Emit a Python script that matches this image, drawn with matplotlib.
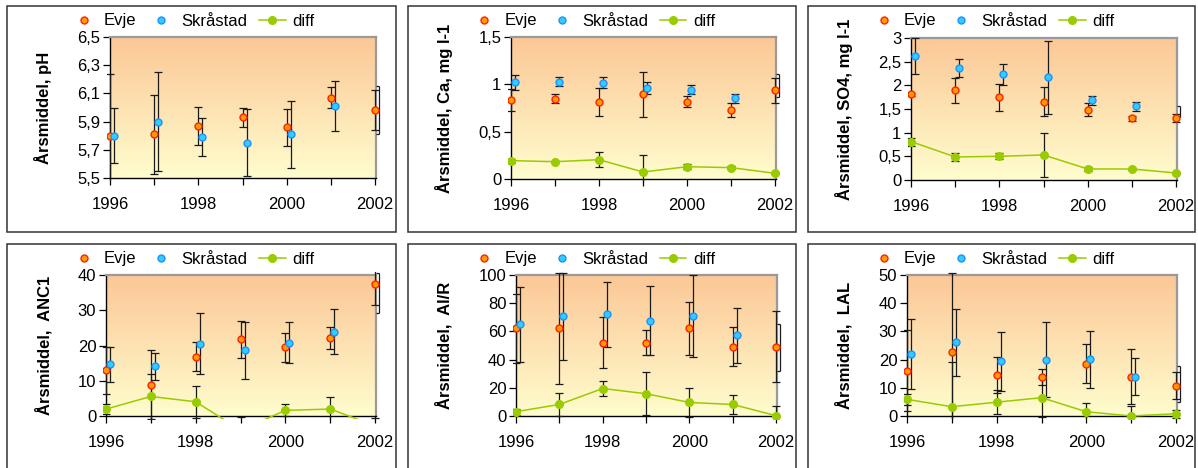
import numpy as np
import matplotlib
matplotlib.use("Agg")
import matplotlib.pyplot as plt
from matplotlib.lines import Line2D
from matplotlib.patches import Rectangle
from matplotlib.ticker import FuncFormatter, FixedLocator
from matplotlib.transforms import Bbox, TransformedBbox

plt.rcParams['font.family'] = ['Liberation Sans', 'DejaVu Sans']

years = [1996, 1997, 1998, 1999, 2000, 2001, 2002]

# pH
ph_evje = [5.80, 5.81, 5.87, 5.93, 5.86, 6.07, 5.98]
ph_evje_err = [0.44, 0.28, 0.135, 0.07, 0.13, 0.077, 0.142]
ph_skr = [5.80, 5.90, 5.79, 5.75, 5.81, 6.01, 5.985]
ph_skr_err = [0.195, 0.35, 0.137, 0.236, 0.238, 0.18, 0.17]
ph_diff = [0.0, 0.09, -0.08, -0.18, -0.05, -0.07, 0.0]
ph_diff_err = [0.1, 0.1, 0.1, 0.1, 0.1, 0.1, 0.1]
ph_ticks = [5.5, 5.7, 5.9, 6.1, 6.3, 6.5]

# Ca
ca_evje = [0.838, 0.849, 0.813, 0.894, 0.817, 0.729, 0.940]
ca_evje_err = [0.115, 0.045, 0.143, 0.24, 0.055, 0.072, 0.132]
ca_skr = [1.021, 1.028, 1.018, 0.961, 0.944, 0.852, 0.986]
ca_skr_err = [0.08, 0.05, 0.06, 0.067, 0.046, 0.046, 0.12]
ca_diff = [0.194, 0.183, 0.204, 0.074, 0.130, 0.120, 0.060]
ca_diff_err = [0.02, 0.005, 0.077, 0.176, 0.026, 0.015, 0.005]
ca_ticks = [0, 0.5, 1, 1.5]

# SO4
so4_evje = [1.807, 1.898, 1.743, 1.658, 1.482, 1.306, 1.306]
so4_evje_err = [0.03, 0.265, 0.28, 0.3, 0.14, 0.05, 0.08]
so4_skr = [2.625, 2.364, 2.230, 2.167, 1.680, 1.553, 1.44]
so4_skr_err = [0.38, 0.187, 0.222, 0.77, 0.105, 0.095, 0.113]
so4_diff = [0.812, 0.487, 0.501, 0.529, 0.233, 0.233, 0.148]
so4_diff_err = [0.085, 0.077, 0.06, 0.46, 0.04, 0.02, 0.025]
so4_ticks = [0, 0.5, 1, 1.5, 2, 2.5, 3]

# ANC1
anc_evje = [12.96, 8.73, 16.81, 21.78, 19.44, 22.07, 37.37]
anc_evje_err = [6.7, 9.86, 4.1, 5.2, 4.04, 3.2, 5.9]
anc_skr = [14.65, 14.08, 20.56, 18.6, 20.85, 23.85, 34.8]
anc_skr_err = [4.9, 3.85, 8.7, 8.2, 5.9, 6.4, 5.7]
anc_diff = [1.97, 5.54, 4.04, -4.0, 1.6, 1.97, -2.8]
anc_diff_err = [1.4, 6.4, 4.5, 3.8, 1.7, 3.4, 2.3]
anc_ticks = [0, 10, 20, 30, 40]

# Al/R
alr_evje = [62.1, 62.1, 52.0, 52.0, 62.1, 49.2, 49.2]
alr_evje_err = [24.3, 39.5, 18.2, 8.8, 19.0, 13.9, 25.0]
alr_skr = [65.2, 70.6, 72.0, 67.5, 71.1, 57.4, 48.6]
alr_skr_err = [26.6, 31.0, 23.3, 24.4, 29.0, 19.5, 17.0]
alr_diff = [3.06, 8.2, 19.5, 15.8, 9.6, 8.2, 0.2]
alr_diff_err = [2.2, 8.4, 5.0, 15.3, 10.0, 6.6, 7.0]
alr_ticks = [0, 20, 40, 60, 80, 100]

# LAL
lal_evje = [16.1, 22.8, 14.6, 13.8, 18.5, 13.9, 10.8]
lal_evje_err = [14.5, 27.9, 6.3, 2.8, 6.9, 9.8, 4.7]
lal_skr = [22.0, 26.1, 19.4, 20.0, 20.1, 13.9, 11.4]
lal_skr_err = [12.3, 12.0, 10.5, 13.3, 10.1, 6.6, 6.3]
lal_diff = [5.9, 3.3, 4.9, 6.5, 1.5, 0.0, 0.8]
lal_diff_err = [2.0, 16.0, 4.2, 7.0, 3.2, 3.5, 1.4]
lal_ticks = [0, 10, 20, 30, 40, 50]

ylabels = ["Årsmiddel, pH", "Årsmiddel, Ca, mg l-1", "Årsmiddel, SO4, mg l-1",
           "Årsmiddel,  ANC1", "Årsmiddel,  Al/R", "Årsmiddel,  LAL"]

W, H = 1198, 468
fig = plt.figure(figsize=(W / 100, H / 100), dpi=100)

EVJE_FC, EVJE_EC = '#FF9900', '#FF2200'
SKR_FC, SKR_EC = '#33CCFF', '#1E90FF'
DIFF_C = '#99CC00'
BAR_C = '#1a1a1a'

# frame boxes (l, t, r, b) and plot areas in pixels
frames = [(7, 6, 396, 232), (408, 6, 796, 232), (808, 6, 1195, 232),
          (7, 244, 396, 480), (408, 244, 796, 480), (808, 244, 1195, 480)]
areas = [(110, 37, 376, 178), (511, 37, 776, 179), (911, 38, 1177, 180),
         (106, 275, 376, 416), (516, 275, 777, 416), (907, 275, 1177, 416)]
label_x = [52, 453, 853, 53, 453, 853]

panels = [
    (ph_evje, ph_evje_err, ph_skr, ph_skr_err, ph_diff, ph_diff_err, ph_ticks),
    (ca_evje, ca_evje_err, ca_skr, ca_skr_err, ca_diff, ca_diff_err, ca_ticks),
    (so4_evje, so4_evje_err, so4_skr, so4_skr_err, so4_diff, so4_diff_err, so4_ticks),
    (anc_evje, anc_evje_err, anc_skr, anc_skr_err, anc_diff, anc_diff_err, anc_ticks),
    (alr_evje, alr_evje_err, alr_skr, alr_skr_err, alr_diff, alr_diff_err, alr_ticks),
    (lal_evje, lal_evje_err, lal_skr, lal_skr_err, lal_diff, lal_diff_err, lal_ticks),
]

gradient = np.linspace(0, 1, 256).reshape(-1, 1)
top_c = np.array([252, 199, 150]) / 255
bot_c = np.array([255, 253, 206]) / 255
grad_img = top_c[None, None, :] * (1 - gradient[:, :, None]) + bot_c[None, None, :] * gradient[:, :, None]

comma = FuncFormatter(lambda v, p: ('%g' % v).replace('.', ','))
skr_shift = 0.09


def loose_clip(ax, art, w, h, m=3):
    box = TransformedBbox(Bbox.from_extents(-m / w, -m / h, 1 + m / w, 1 + m / h), ax.transAxes)
    art.set_clip_path(None)
    art.set_clip_box(box)


def bars(ax, x, y, err, w, h):
    eb = ax.errorbar(x, y, yerr=err, fmt='none', ecolor=BAR_C, elinewidth=0.9,
                     capsize=3, capthick=0.9, zorder=3)
    for art in list(eb.lines[1]) + list(eb.lines[2]):
        loose_clip(ax, art, w, h)


for i, (frame, area, pdata) in enumerate(zip(frames, areas, panels)):
    l, t, r, b = frame
    fig.patches.append(Rectangle((l / W, 1 - b / H), (r - l) / W, (b - t) / H,
                                 transform=fig.transFigure, fill=False,
                                 edgecolor='#333333', lw=1.1))
    al, at, ar, ab = area
    w, h = ar - al, ab - at
    ax = fig.add_axes([al / W, 1 - ab / H, w / W, h / H])
    evje, evje_err, skr, skr_err, diff, diff_err, ticks = pdata

    ax.imshow(grad_img, extent=[0, 1, 0, 1], transform=ax.transAxes,
              aspect='auto', zorder=0)
    ax.set_xlim(1996, 2002.02)
    ax.set_ylim(ticks[0], ticks[-1])

    skr_x = [yr + skr_shift for yr in years]
    bars(ax, years, evje, evje_err, w, h)
    bars(ax, skr_x[:-1], skr[:-1], skr_err[:-1], w, h)
    bars(ax, years, diff, diff_err, w, h)

    # last Skråstad bar sits outside the plot area: only the bracket shows
    eb = ax.errorbar(skr_x[-1:], skr[-1:], yerr=skr_err[-1:], fmt='none',
                     ecolor=BAR_C, elinewidth=0.9, capsize=0, zorder=3)
    for art in eb.lines[2]:
        art.set_clip_on(False)
    ax.hlines([skr[-1] - skr_err[-1], skr[-1] + skr_err[-1]],
              skr_x[-1] - 0.075, skr_x[-1], color=BAR_C, lw=0.9,
              clip_on=False, zorder=3)

    dl, = ax.plot(years, diff, color=DIFF_C, lw=1.1, marker='o', ms=5.5,
                  mfc=DIFF_C, mec=DIFF_C, zorder=4)
    loose_clip(ax, dl, w, h)
    e, = ax.plot(years, evje, ls='none', marker='o', ms=5, mfc=EVJE_FC,
                 mec=EVJE_EC, mew=1.0, zorder=5)
    loose_clip(ax, e, w, h)
    s, = ax.plot(skr_x[:-1], skr[:-1], ls='none', marker='o', ms=5, mfc=SKR_FC,
                 mec=SKR_EC, mew=1.0, zorder=5)
    loose_clip(ax, s, w, h)

    ax.xaxis.set_major_locator(FixedLocator(years))
    ax.set_xticklabels([str(yr) if yr % 2 == 0 else '' for yr in years])
    ax.yaxis.set_major_locator(FixedLocator(ticks))
    ax.yaxis.set_major_formatter(comma)
    ax.tick_params(axis='both', direction='out', length=5, width=0.9,
                   labelsize=12, colors='black')
    ax.tick_params(axis='x', pad=9)
    ax.tick_params(axis='y', pad=2)
    for side in ('left', 'bottom'):
        ax.spines[side].set_color('black')
        ax.spines[side].set_linewidth(1.0)
    for side in ('top', 'right'):
        ax.spines[side].set_color('#9a9a9a')
        ax.spines[side].set_linewidth(1.6)

    ax.set_ylabel(ylabels[i], fontsize=12, fontweight='bold')
    ax.yaxis.set_label_coords((label_x[i] - al) / w, 0.5)

    h_evje = Line2D([], [], ls='none', marker='o', ms=5, mfc=EVJE_FC, mec=EVJE_EC)
    h_skr = Line2D([], [], ls='none', marker='o', ms=5, mfc=SKR_FC, mec=SKR_EC)
    h_diff = Line2D([], [], color=DIFF_C, lw=1.1, marker='o', ms=5.5,
                    mfc=DIFF_C, mec=DIFF_C)
    cx = (l + r) / 2 - 9
    cy = t + 15
    fig.legend([h_evje, h_skr, h_diff], ['Evje', 'Skråstad', 'diff'],
               loc='center', bbox_to_anchor=(cx / W, 1 - cy / H), ncol=3,
               frameon=False, fontsize=12, handlelength=1.6, handletextpad=0.4,
               columnspacing=0.7, borderpad=0, borderaxespad=0)

fig.savefig('out.png', dpi=100)
